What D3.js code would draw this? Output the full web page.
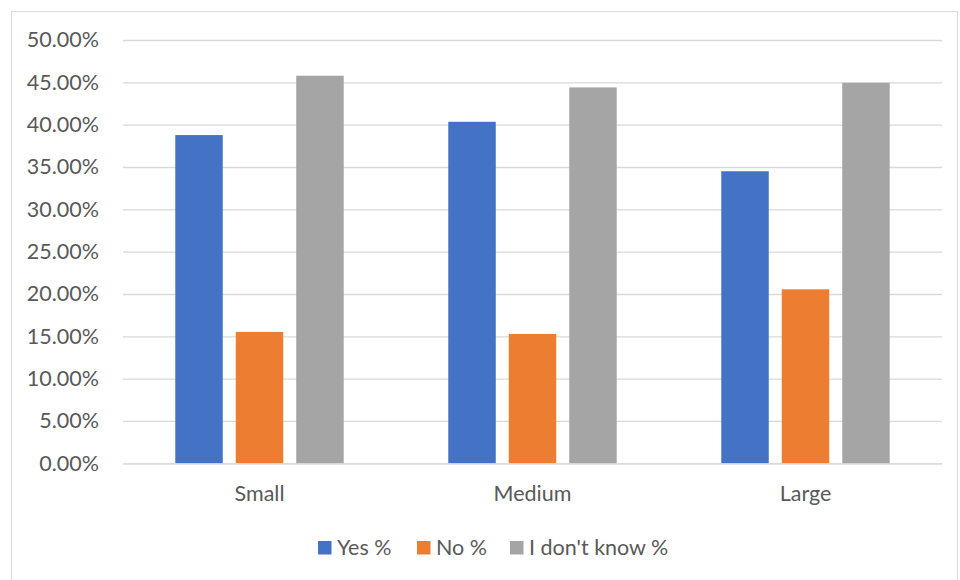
<!DOCTYPE html>
<html><head><meta charset="utf-8">
<script src="https://cdn.jsdelivr.net/npm/d3@7"></script>
<style>body{margin:0;background:#fff}svg{display:block}text{font-family:Lato,"Open Sans",sans-serif;fill:#595959}</style>
</head><body><svg id="c" width="960" height="580"></svg>
<script>
const categories = ["Small", "Medium", "Large"];
const seriesNames = ["Yes %", "No %", "I don't know %"];
const yesValues = [0.3877, 0.4034, 0.3450];
const noValues = [0.1552, 0.1528, 0.2055];
const dontKnowValues = [0.4578, 0.4440, 0.4495];
const colors = ["#4472C4", "#ED7D31", "#A5A5A5"];
const yTicks = [0, 0.05, 0.10, 0.15, 0.20, 0.25, 0.30, 0.35, 0.40, 0.45, 0.50];

const series = [yesValues, noValues, dontKnowValues];
const svg = d3.select("#c");
svg.append("rect").attr("x", 11.5).attr("y", 11.5).attr("width", 946).attr("height", 600)
  .attr("fill", "none").attr("stroke", "#D9D9D9").attr("stroke-width", 1);

const pLeft = 123, pRight = 942, pTop = 40, pBottom = 463.3;
const fs = "21.5px";
const y = d3.scaleLinear().domain([0, 0.5]).range([pBottom, pTop]);
const x = d3.scaleBand().domain(categories).range([pLeft, pRight]);
const inner = d3.scaleBand().domain(d3.range(3)).range([x.bandwidth()*0.1915, x.bandwidth()*0.8085]).paddingInner(0.215);

const yAxis = d3.axisLeft(y).tickValues(yTicks).tickSize(-(pRight-pLeft)).tickPadding(24)
  .tickFormat(d => (d*100).toFixed(2) + "%");
const gy = svg.append("g").attr("transform", `translate(${pLeft},0)`).call(yAxis);
gy.select(".domain").remove();
gy.selectAll(".tick line").attr("stroke", "#D9D9D9").attr("stroke-width", 1.3);
gy.selectAll(".tick text").attr("font-size", fs).attr("fill", "#595959");

const groups = svg.append("g").selectAll("g").data(categories).join("g")
  .attr("transform", d => `translate(${x(d)},0)`);
groups.selectAll("rect").data((d, i) => series.map((s, j) => ({j, v: s[i]}))).join("rect")
  .attr("x", d => inner(d.j)).attr("width", inner.bandwidth())
  .attr("y", d => y(d.v)).attr("height", d => y(0) - y(d.v))
  .attr("fill", d => colors[d.j]);

const xAxis = d3.axisBottom(x).tickSize(0).tickPadding(22);
const gx = svg.append("g").attr("transform", `translate(0,${pBottom})`).call(xAxis);
gx.select(".domain").attr("stroke", "#D9D9D9").attr("stroke-width", 1.3);
gx.selectAll(".tick text").attr("font-size", fs).attr("fill", "#595959");
gy.attr("font-family", null); gx.attr("font-family", null);

const legendX = [318, 417, 510];
const lg = svg.append("g").selectAll("g").data(seriesNames).join("g")
  .attr("transform", (d, i) => `translate(${legendX[i]},541)`);
lg.append("rect").attr("width", 13.5).attr("height", 13.5).attr("fill", (d, i) => colors[i]);
lg.append("text").attr("x", 19).attr("y", 14).attr("font-size", fs).text(d => d);
</script></body></html>
